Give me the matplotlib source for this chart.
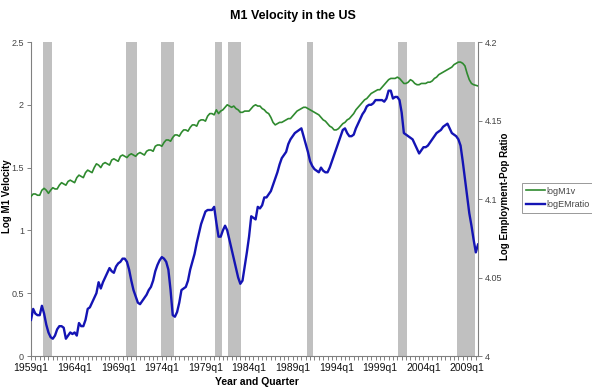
#----Velocidad de M1 y razón empleo-población (datos trimestrales)----
import matplotlib
matplotlib.use("Agg")
import matplotlib.pyplot as plt
import numpy as np

plt.rcParams['font.family'] = ['Liberation Sans', 'DejaVu Sans']

#----Datos----
primer_anio = 1959
logM1v = [
    1.27, 1.29, 1.29, 1.28,   # 1959
    1.28, 1.32, 1.335, 1.32,  # 1960
    1.295, 1.32, 1.34, 1.33,  # 1961
    1.33, 1.36, 1.38, 1.37,   # 1962
    1.36, 1.39, 1.40, 1.39,   # 1963
    1.38, 1.42, 1.44, 1.43,   # 1964
    1.42, 1.46, 1.48, 1.47,   # 1965
    1.46, 1.50, 1.53, 1.52,   # 1966
    1.50, 1.53, 1.54, 1.53,   # 1967
    1.52, 1.56, 1.57, 1.56,   # 1968
    1.55, 1.59, 1.60, 1.59,   # 1969
    1.58, 1.60, 1.61, 1.60,   # 1970
    1.59, 1.61, 1.62, 1.61,   # 1971
    1.60, 1.63, 1.64, 1.64,   # 1972
    1.63, 1.67, 1.68, 1.68,   # 1973
    1.67, 1.70, 1.72, 1.72,   # 1974
    1.71, 1.74, 1.76, 1.76,   # 1975
    1.75, 1.78, 1.80, 1.80,   # 1976
    1.79, 1.82, 1.84, 1.84,   # 1977
    1.83, 1.87, 1.88, 1.88,   # 1978
    1.87, 1.91, 1.93, 1.93,   # 1979
    1.92, 1.96, 1.93, 1.95,   # 1980
    1.96, 1.98, 2.00, 1.99,   # 1981
    1.98, 1.99, 1.97, 1.96,   # 1982
    1.94, 1.94, 1.95, 1.95,   # 1983
    1.95, 1.97, 1.99, 2.00,   # 1984
    1.99, 1.99, 1.97, 1.96,   # 1985
    1.94, 1.93, 1.90, 1.86,   # 1986
    1.84, 1.85, 1.86, 1.86,   # 1987
    1.87, 1.88, 1.89, 1.89,   # 1988
    1.91, 1.93, 1.95, 1.96,   # 1989
    1.97, 1.98, 1.98, 1.97,   # 1990
    1.96, 1.95, 1.94, 1.93,   # 1991
    1.92, 1.90, 1.88, 1.87,   # 1992
    1.85, 1.83, 1.82, 1.80,   # 1993
    1.80, 1.81, 1.83, 1.85,   # 1994
    1.86, 1.88, 1.89, 1.91,   # 1995
    1.93, 1.96, 1.98, 2.00,   # 1996
    2.02, 2.04, 2.05, 2.07,   # 1997
    2.09, 2.10, 2.11, 2.12,   # 1998
    2.12, 2.14, 2.16, 2.18,   # 1999
    2.20, 2.21, 2.21, 2.21,   # 2000
    2.22, 2.21, 2.19, 2.17,   # 2001
    2.17, 2.18, 2.20, 2.19,   # 2002
    2.17, 2.16, 2.16, 2.17,   # 2003
    2.17, 2.17, 2.18, 2.18,   # 2004
    2.19, 2.21, 2.22, 2.24,   # 2005
    2.25, 2.26, 2.27, 2.28,   # 2006
    2.29, 2.30, 2.32, 2.33,   # 2007
    2.34, 2.34, 2.33, 2.31,   # 2008
    2.25, 2.20, 2.17, 2.16,   # 2009
    2.155, 2.15,              # 2010
]
logEMratio = [
    4.023, 4.030, 4.027, 4.026,  # 1959
    4.026, 4.032, 4.027, 4.020,  # 1960
    4.015, 4.012, 4.011, 4.013,  # 1961
    4.017, 4.019, 4.019, 4.018,  # 1962
    4.011, 4.013, 4.015, 4.014,  # 1963
    4.015, 4.013, 4.021, 4.019,  # 1964
    4.019, 4.023, 4.030, 4.031,  # 1965
    4.034, 4.037, 4.040, 4.047,  # 1966
    4.043, 4.047, 4.050, 4.053,  # 1967
    4.056, 4.054, 4.053, 4.057,  # 1968
    4.059, 4.060, 4.062, 4.062,  # 1969
    4.060, 4.055, 4.048, 4.042,  # 1970
    4.038, 4.034, 4.033, 4.035,  # 1971
    4.037, 4.039, 4.042, 4.044,  # 1972
    4.048, 4.054, 4.058, 4.061,  # 1973
    4.063, 4.062, 4.060, 4.055,  # 1974
    4.042, 4.026, 4.025, 4.028,  # 1975
    4.034, 4.042, 4.043, 4.044,  # 1976
    4.048, 4.055, 4.060, 4.065,  # 1977
    4.072, 4.078, 4.084, 4.088,  # 1978
    4.092, 4.093, 4.093, 4.093,  # 1979
    4.095, 4.085, 4.076, 4.076,  # 1980
    4.080, 4.083, 4.080, 4.074,  # 1981
    4.068, 4.062, 4.056, 4.050,  # 1982
    4.046, 4.048, 4.057, 4.066,  # 1983
    4.076, 4.089, 4.088, 4.087,  # 1984
    4.095, 4.094, 4.096, 4.101,  # 1985
    4.101, 4.103, 4.105, 4.109,  # 1986
    4.113, 4.117, 4.122, 4.126,  # 1987
    4.128, 4.130, 4.135, 4.138,  # 1988
    4.140, 4.142, 4.143, 4.144,  # 1989
    4.145, 4.140, 4.135, 4.130,  # 1990
    4.124, 4.121, 4.119, 4.118,  # 1991
    4.117, 4.120, 4.118, 4.117,  # 1992
    4.117, 4.120, 4.124, 4.128,  # 1993
    4.132, 4.136, 4.140, 4.144,  # 1994
    4.145, 4.142, 4.140, 4.140,  # 1995
    4.141, 4.145, 4.148, 4.151,  # 1996
    4.154, 4.156, 4.159, 4.160,  # 1997
    4.160, 4.161, 4.163, 4.163,  # 1998
    4.163, 4.163, 4.162, 4.164,  # 1999
    4.169, 4.169, 4.164, 4.165,  # 2000
    4.165, 4.163, 4.155, 4.142,  # 2001
    4.141, 4.140, 4.139, 4.138,  # 2002
    4.135, 4.132, 4.129, 4.131,  # 2003
    4.133, 4.133, 4.134, 4.136,  # 2004
    4.138, 4.140, 4.142, 4.143,  # 2005
    4.144, 4.146, 4.147, 4.148,  # 2006
    4.145, 4.142, 4.141, 4.140,  # 2007
    4.138, 4.134, 4.124, 4.113,  # 2008
    4.102, 4.091, 4.083, 4.074,  # 2009
    4.066, 4.071,                # 2010
]
# Recesiones (trimestre inicial, trimestre final)
recesiones = [("1960q2", "1961q1"), ("1969q4", "1970q4"), ("1973q4", "1975q1"),
              ("1980q1", "1980q3"), ("1981q3", "1982q4"), ("1990q3", "1991q1"),
              ("2001q1", "2001q4"), ("2007q4", "2009q3")]
etiquetas_x = ["1959q1", "1964q1", "1969q1", "1974q1", "1979q1", "1984q1",
               "1989q1", "1994q1", "1999q1", "2004q1", "2009q1"]


def indice(trim):  # "1960q2" -> número de trimestre desde 1959q1
    anio, q = trim.split("q")
    return (int(anio) - primer_anio)*4 + int(q) - 1


n = len(logM1v)
x = np.arange(n)

#----Graficar----
fig = plt.figure(figsize=(5.92, 3.92), dpi=100)
ax = fig.add_axes([31/592, 36/392, 447/592, 314/392])
ax2 = ax.twinx()

for ini, fin in recesiones:
    ax.axvspan(indice(ini)+0.5, indice(fin)+1.5, color="#c0c0c0", lw=0, zorder=0)

l1, = ax.plot(x, logM1v, color="#2f8a2f", lw=1.2, zorder=3)
l2, = ax2.plot(x, logEMratio, color="#1414b4", lw=1.7, zorder=3)

ax.set_xlim(0, n-1)
ax.set_ylim(0, 2.5)
ax2.set_ylim(4, 4.2)
ax.set_yticks([0, 0.5, 1, 1.5, 2, 2.5])
ax.set_yticklabels(["0", "0.5", "1", "1.5", "2", "2.5"])
ax2.set_yticks([4, 4.05, 4.1, 4.15, 4.2])
ax2.set_yticklabels(["4", "4.05", "4.1", "4.15", "4.2"])
ax.set_xticks([indice(e) for e in etiquetas_x])
ax.set_xticklabels(etiquetas_x)
ax.set_xticks(np.arange(0, n, 2), minor=True)

gris = "#808080"
for a in (ax, ax2):
    for s in a.spines.values():
        s.set_visible(False)
ax.spines['left'].set_visible(True)
ax.spines['bottom'].set_visible(True)
ax2.spines['right'].set_visible(True)
for s in (ax.spines['left'], ax.spines['bottom'], ax2.spines['right']):
    s.set_color(gris)
    s.set_linewidth(0.8)

ax.tick_params(axis='y', labelsize=6.5, colors=gris, labelcolor="#444444", length=3, width=0.7, pad=2)
ax2.tick_params(axis='y', labelsize=6.5, colors=gris, labelcolor="#444444", length=3, width=0.7, pad=2)
ax.tick_params(axis='x', which='major', labelsize=7.5, colors=gris, labelcolor="#111111", length=3, width=0.7, pad=2)
ax.tick_params(axis='x', which='minor', colors=gris, length=3, width=0.7)

fig.text(0.495, 0.975, "M1 Velocity in the US", ha="center", va="top", fontsize=9, fontweight="bold")
fig.text(0.434, 0.012, "Year and Quarter", ha="center", va="bottom", fontsize=7.5, fontweight="bold")
fig.text(0.012, 0.5, "Log M1 Velocity", ha="center", va="center", rotation=90, fontsize=7, fontweight="bold")
fig.text(0.853, 0.5, "Log Employment-Pop Ratio", ha="center", va="center", rotation=90, fontsize=7, fontweight="bold")

leg = fig.legend([l1, l2], ["logM1v", "logEMratio"], loc="upper left",
                 bbox_to_anchor=(522/592, 1-183/392), fontsize=6.5, fancybox=False,
                 edgecolor=gris, handlelength=2.2, handletextpad=0.1,
                 borderpad=0.4, labelspacing=0.5, borderaxespad=0)
leg.get_frame().set_linewidth(0.7)
for t in leg.get_texts():
    t.set_color("#444444")

fig.savefig("out.png", dpi=100)
